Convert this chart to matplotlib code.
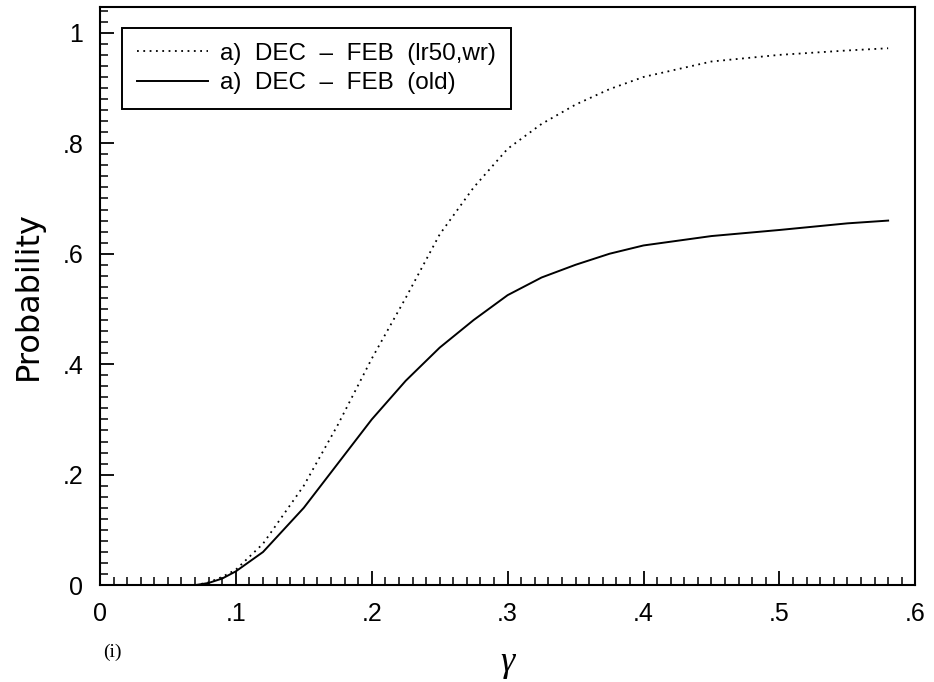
import matplotlib
matplotlib.use('Agg')
import matplotlib.pyplot as plt
from matplotlib.ticker import MultipleLocator

# gamma threshold and probability curves
gamma = [0.07, 0.08, 0.09, 0.10, 0.12, 0.15, 0.175, 0.20, 0.225, 0.25, 0.275,
         0.30, 0.325, 0.35, 0.375, 0.40, 0.45, 0.50, 0.55, 0.58]
prob_lr50 = [0.0, 0.005, 0.015, 0.028, 0.075, 0.18, 0.29, 0.41, 0.52, 0.635, 0.72,
             0.79, 0.835, 0.87, 0.898, 0.92, 0.948, 0.96, 0.968, 0.972]
prob_old = [0.0, 0.004, 0.012, 0.025, 0.06, 0.14, 0.22, 0.30, 0.37, 0.43, 0.48,
            0.525, 0.557, 0.58, 0.60, 0.615, 0.632, 0.643, 0.655, 0.66]

series_labels = ['a)  DEC  \u2013  FEB  (lr50,wr)', 'a)  DEC  \u2013  FEB  (old)']
xticks = [0, 0.1, 0.2, 0.3, 0.4, 0.5, 0.6]
xticklabels = ['0', '.1', '.2', '.3', '.4', '.5', '.6']
yticks = [0, 0.2, 0.4, 0.6, 0.8, 1.0]
yticklabels = ['0', '.2', '.4', '.6', '.8', '1']

plt.rcParams['font.family'] = ['Liberation Sans', 'DejaVu Sans']

fig = plt.figure(figsize=(9.34, 6.82), dpi=100)
fig.patch.set_facecolor('white')
ax = fig.add_axes([0.107, 0.142, 0.873, 0.848])

ax.plot(gamma, prob_lr50, color='black', lw=1.3, linestyle=(0, (1, 2.5)),
        label=series_labels[0])
ax.plot(gamma, prob_old, color='black', lw=1.4, label=series_labels[1])

ax.set_xlim(0, 0.6)
ax.set_ylim(0, 1.047)

ax.set_xticks(xticks)
ax.set_xticklabels(xticklabels)
ax.set_yticks(yticks)
ax.set_yticklabels(yticklabels)
ax.xaxis.set_minor_locator(MultipleLocator(0.01))
ax.yaxis.set_minor_locator(MultipleLocator(0.02))

ax.tick_params(which='both', direction='in', top=False, right=False,
               colors='black', labelsize=18)
ax.tick_params(which='major', length=10, width=1.3, pad=12)
ax.tick_params(which='minor', length=5.5, width=1.1)

for sp in ax.spines.values():
    sp.set_linewidth(1.5)

ax.set_ylabel('Probability', fontsize=23, labelpad=13,
              family=['DejaVu Sans'])
fig.text(0.543, 0.028, '\u03b3', fontsize=26, style='italic',
         family=['Liberation Serif', 'DejaVu Serif'], ha='center', va='center')
fig.text(0.12, 0.044, '(i)', fontsize=14, family=['Liberation Serif', 'DejaVu Serif'],
         ha='center', va='center')

leg = ax.legend(loc='upper left', bbox_to_anchor=(0.027, 0.964), borderaxespad=0,
                fontsize=17.5, handlelength=2.9, handletextpad=0.5, labelspacing=0.3,
                borderpad=0.62, fancybox=False, framealpha=1, edgecolor='black')
leg.get_frame().set_linewidth(1.4)

fig.savefig('out.png', dpi=100, facecolor='white')
